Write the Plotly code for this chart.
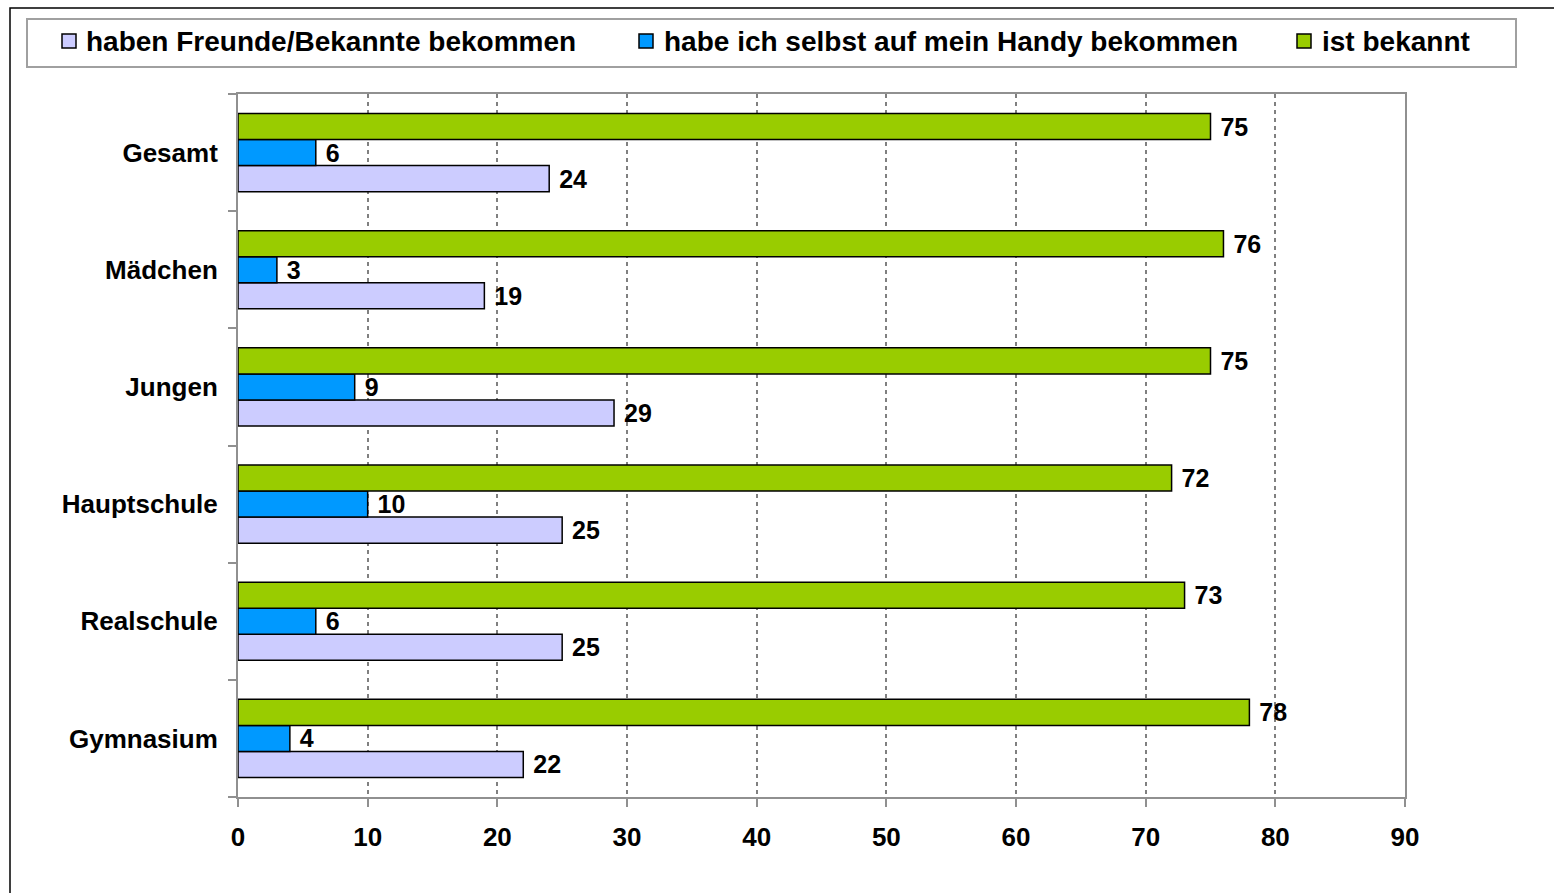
import plotly.graph_objects as go

categories = ["Gesamt", "Mädchen", "Jungen", "Hauptschule", "Realschule", "Gymnasium"]
series_names = ["haben Freunde/Bekannte bekommen",
                "habe ich selbst auf mein Handy bekommen",
                "ist bekannt"]
freunde = [24, 19, 29, 25, 25, 22]
selbst = [6, 3, 9, 10, 6, 4]
bekannt = [75, 76, 75, 72, 73, 78]
x_ticks = [0, 10, 20, 30, 40, 50, 60, 70, 80, 90]

colors = ["#CCCCFF", "#0099FF", "#99CC00"]
FONT = "Liberation Sans, Arial, sans-serif"

W, H = 1554, 893
L, R, T, B = 238, 149, 94, 96
PW, PH = W - L - R, H - T - B


def px(xp):
    return (xp - L) / PW


def py(yp):
    return (H - B - yp) / PH


fig = go.Figure()
for name, vals, col in zip(series_names, [freunde, selbst, bekannt], colors):
    fig.add_trace(go.Bar(
        y=categories, x=vals, name=name, orientation="h",
        marker=dict(color=col, line=dict(color="#000000", width=1.5)),
        text=["\u00a0" + str(v) for v in vals], textposition="outside",
        textfont=dict(family=FONT, size=25, color="#000000", weight="bold"),
        constraintext="none", cliponaxis=False, showlegend=False,
    ))

# frame and legend box
shapes = [
    dict(type="rect", xref="paper", yref="paper",
         x0=px(10), x1=px(1620), y0=py(8), y1=py(960),
         line=dict(color="#000000", width=1.5), fillcolor="rgba(0,0,0,0)", layer="below"),
    dict(type="rect", xref="paper", yref="paper",
         x0=px(27), x1=px(1516), y0=py(19), y1=py(67),
         line=dict(color="#A0A0A0", width=2), fillcolor="#FFFFFF", layer="below"),
]
annotations = []
legend_marker_x = [62, 639, 1297]
legend_text_x = [84, 662, 1320]
for i, name in enumerate(series_names):
    mx = legend_marker_x[i]
    shapes.append(dict(type="rect", xref="paper", yref="paper",
                       x0=px(mx), x1=px(mx + 14), y0=py(34), y1=py(48),
                       line=dict(color="#000000", width=1.5), fillcolor=colors[i]))
    annotations.append(dict(xref="paper", yref="paper", x=px(legend_text_x[i]), y=py(42),
                            xanchor="left", yanchor="middle", showarrow=False,
                            text=name, font=dict(family=FONT, size=28, color="#000000", weight="bold")))

fig.update_layout(
    width=W, height=H,
    margin=dict(l=L, r=R, t=T, b=B, pad=0),
    paper_bgcolor="#FFFFFF", plot_bgcolor="#FFFFFF",
    barmode="group", bargap=0.333, bargroupgap=0,
    showlegend=False,
    shapes=shapes, annotations=annotations,
    xaxis=dict(range=[0, 90], tickvals=x_ticks, ticktext=[str(t) for t in x_ticks],
               showgrid=True, gridcolor="#808080", gridwidth=2, griddash="4px,4px",
               zeroline=False, showline=True, linecolor="#909090", linewidth=2, mirror=True,
               ticks="outside", ticklen=8, tickwidth=2, tickcolor="#909090",
               ticklabelstandoff=8,
               tickfont=dict(family=FONT, size=26, color="#000000", weight="bold")),
    yaxis=dict(categoryorder="array", categoryarray=categories[::-1],
               showgrid=False, zeroline=False, showline=True, linecolor="#909090",
               linewidth=2, mirror=True,
               ticks="outside", ticklen=8, tickwidth=2, tickcolor="#909090",
               tickson="boundaries", ticklabelstandoff=13,
               tickfont=dict(family=FONT, size=26, color="#000000", weight="bold")),
)

fig.write_html("out.html", config={"displayModeBar": False},
               post_script="document.body.style.margin='0';document.body.style.overflow='hidden';")
